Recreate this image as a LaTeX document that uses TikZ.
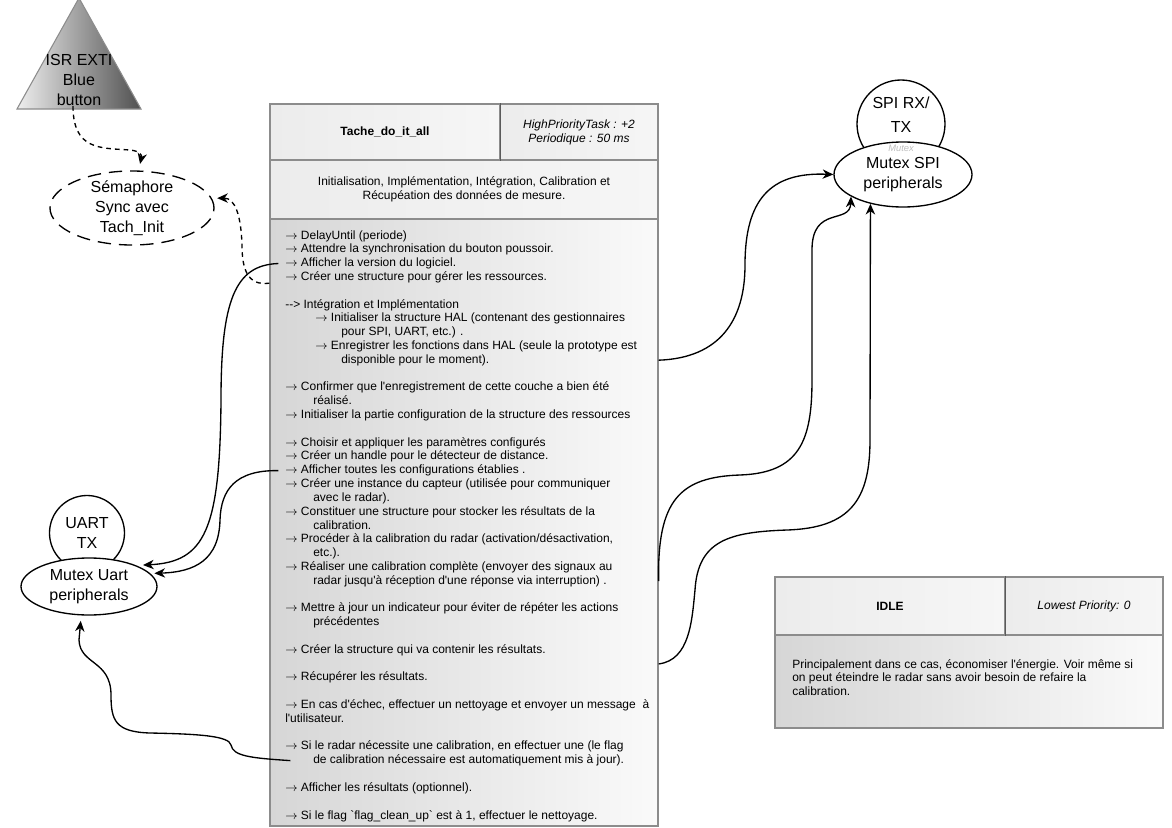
\documentclass[tikz,border=0pt]{standalone}
\usepackage{fontspec}
\newfontfamily\lib{Liberation Sans}
\usetikzlibrary{arrows.meta,shapes.geometric,calc}

\definecolor{edge}{HTML}{8C8C8C}
\definecolor{divider}{HTML}{5A5A5A}
\definecolor{hdrL}{HTML}{ECECEC}
\definecolor{hdrR}{HTML}{F6F6F6}
\definecolor{bodyL}{HTML}{D6D6D6}
\definecolor{bodyR}{HTML}{FAFAFA}
\definecolor{triL}{HTML}{EEEEEE}
\definecolor{triR}{HTML}{505050}

% thin bullet arrow used in the task descriptions
\newcommand\ra{$\rightarrow$}

\tikzset{
  every node/.style={font=\lib},
  cell/.style={draw=edge, line width=1pt, inner sep=0pt, left color=hdrL, right color=hdrR,
    font={\lib\fontsize{9}{10.4}\selectfont}, align=center},
  bodycell/.style={draw=edge, line width=1pt, inner sep=0pt, left color=bodyL, right color=bodyR},
  line/.style={font={\lib\fontsize{9}{10.4}\selectfont}, inner sep=0pt, anchor=base west},
  big/.style={font={\lib\fontsize{12}{15}\selectfont}, align=center, inner sep=0pt},
  oval/.style={draw, line width=1pt, ellipse, fill=white, inner sep=0pt},
  ring/.style={draw, line width=1pt, circle, fill=white, inner sep=0pt},
  wire/.style={line width=1pt, -{Stealth[length=8pt,width=7pt,inset=2.5pt]}},
  dwire/.style={wire, dash pattern=on 3.5pt off 3pt},
}

\begin{document}
\begin{tikzpicture}[x=0.75pt,y=-0.75pt]
\useasboundingbox (0,0) rectangle (1172,828);
\fill[white] (0,0) rectangle (1172,828);

% ---------- interrupt source ----------
\shadedraw[draw=gray!90, line width=0.8pt, left color=triL, right color=triR]
  (17,109) -- (79,-2) -- (141,109) -- cycle;
\node[big] (isr) at (79,80) {ISR EXTI\\Blue\\button};

% ---------- semaphore ----------
\node[oval, dash pattern=on 10pt off 6pt, minimum width=123pt, minimum height=55.5pt] (sem) at (132,208) {};
\node[big] (semtxt) at (132,208) {Sémaphore\\Sync avec\\Tach\_Init};

% ---------- SPI resource ----------
\node[ring, minimum size=66pt] (spic) at (901,124) {};
\node[big] (spitxt) at (901,115) {SPI RX/\\[3pt]TX};
\node[oval, minimum width=103.5pt, minimum height=48.75pt, big] (spim) at (903,174.5) {Mutex SPI\\peripherals};
\node[font={\lib\itshape\fontsize{7}{8}\selectfont}, text=gray!50, inner sep=0pt] (mutexlbl) at (901,148) {Mutex};

% ---------- UART resource ----------
\node[ring, minimum size=56.25pt, big] (uartc) at (87,533) {UART\\TX};
\node[oval, minimum width=102pt, minimum height=42.75pt, big] (uartm) at (89,586.5) {Mutex Uart\\peripherals};

% ---------- main task ----------
\node[cell, minimum width=172.5pt, minimum height=42pt] (taskname) at (385,132) {\bfseries Tache\_do\_it\_all};
\node[cell, minimum width=118.5pt, minimum height=42pt] (taskprio) at (579,132) {\itshape HighPriorityTask : +2\\\itshape Periodique : 50 ms};
\node[cell, minimum width=291pt, minimum height=44.25pt] (taskdesc) at (464,189.5)
  {Initialisation, Implémentation, Intégration, Calibration et\\Récupéation des données de mesure.};
\node[bodycell, minimum width=291pt, minimum height=455.25pt] (taskbody) at (464,522.5) {};
\draw[divider, line width=1pt] (taskname.north east) -- (taskname.south east);

\foreach \i/\x/\t in {
  0/285/{\ra{} DelayUntil (periode)},
  1/285/{\ra{} Attendre la synchronisation du bouton poussoir.},
  2/285/{\ra{} Afficher la version du logiciel.},
  3/285/{\ra{} Créer une structure pour gérer les ressources.},
  5/285/{--> Intégration et Implémentation},
  6/315/{\ra{} Initialiser la structure HAL (contenant des gestionnaires},
  7/341/{pour SPI, UART, etc.) .},
  8/315/{\ra{} Enregistrer les fonctions dans HAL (seule la prototype est},
  9/341/{disponible pour le moment).},
  11/285/{\ra{} Confirmer que l'enregistrement de cette couche a bien été},
  12/313/{réalisé.},
  13/285/{\ra{} Initialiser la partie configuration de la structure des ressources},
  15/285/{\ra{} Choisir et appliquer les paramètres configurés},
  16/285/{\ra{} Créer un handle pour le détecteur de distance.},
  17/285/{\ra{} Afficher toutes les configurations établies .},
  18/285/{\ra{} Créer une instance du capteur (utilisée pour communiquer},
  19/313/{avec le radar).},
  20/285/{\ra{} Constituer une structure pour stocker les résultats de la},
  21/313/{calibration.},
  22/285/{\ra{} Procéder à la calibration du radar (activation/désactivation,},
  23/313/{etc.).},
  24/285/{\ra{} Réaliser une calibration complète (envoyer des signaux au},
  25/313/{radar jusqu'à réception d'une réponse via interruption) .},
  27/285/{\ra{} Mettre à jour un indicateur pour éviter de répéter les actions},
  28/313/{précédentes},
  30/285/{\ra{} Créer la structure qui va contenir les résultats.},
  32/285/{\ra{} Récupérer les résultats.},
  34/285/{\ra{} En cas d'échec, effectuer un nettoyage et envoyer un message~ à},
  35/285/{l'utilisateur.},
  37/285/{\ra{} Si le radar nécessite une calibration, en effectuer une (le flag},
  38/313/{de calibration nécessaire est automatiquement mis à jour).},
  40/285/{\ra{} Afficher les résultats (optionnel).},
  42/285/{\ra{} Si le flag `flag\_clean\_up` est à 1, effectuer le nettoyage.}}
  \node[line] (b\i) at (\x,{239+13.81*\i}) {\t};
\coordinate (gap31) at ($(b30.west)!.5!(b32.west)$);

% ---------- idle task ----------
\node[cell, minimum width=172.5pt, minimum height=43.5pt] (idlename) at (890,606) {\bfseries IDLE};
\node[cell, minimum width=118.5pt, minimum height=43.5pt] (idleprio) at (1084,606) {\itshape Lowest Priority: 0};
\node[bodycell, minimum width=291pt, minimum height=69.75pt] (idlebody) at (969,681.5) {};
\draw[divider, line width=1pt] (idlename.north east) -- (idlename.south east);
\foreach \i/\t in {
  0/{Principalement dans ce cas, économiser l'énergie. Voir même si},
  1/{on peut éteindre le radar sans avoir besoin de refaire la},
  2/{calibration.}}
  \node[line] (idle\i) at (792,{668+13.81*\i}) {\t};

% ---------- synchronisation (dashed) ----------
\draw[dwire, shorten >=5pt] ([xshift=-4.5pt]isr.south)
  .. controls (73,150) and (100,148) .. (130,150)
  .. controls (140,151) and (142,155) .. (sem.80);
\draw[dwire, shorten >=4pt] (taskbody.west |- b3.south)
  .. controls (248,286) and (242,270) .. (242,245)
  .. controls (241,215) and (235,198) .. (sem.7);

% ---------- UART accesses ----------
\draw[wire, shorten >=5pt] ([xshift=-5pt]b2.west)
  .. controls (235,265) and (221,300) .. (221,400)
  .. controls (220,530) and (205,562) .. (uartm.24);
\draw[wire, shorten >=3pt] ([xshift=-5pt]b17.west)
  .. controls (235,470) and (221,490) .. (220,520)
  .. controls (219,560) and (195,572) .. (uartm.12);
\draw[wire, shorten >=4pt] ([xshift=-17pt]b38.west)
  .. controls (250,758) and (233,756) .. (231,745)
  .. controls (229,736) and (200,734) .. (150,733)
  .. controls (115,732) and (111,720) .. (111,695)
  .. controls (111,660) and (80,665) .. (79,640) -- (uartm.-105);

% ---------- SPI accesses ----------
\draw[wire] (taskbody.east |- b9.west)
  .. controls (720,358) and (745,320) .. (745,265)
  .. controls (745,200) and (770,172) .. (spim.west);
\draw[wire] (taskbody.east |- b25.west)
  .. controls (657,500) and (680,477) .. (740,475)
  .. controls (800,473) and (812,440) .. (812,380) -- (812,250)
  .. controls (812,205) and (850,225) .. (spim.203);
\draw[wire] (taskbody.east |- gap31)
  .. controls (690,660) and (692,620) .. (695,590)
  .. controls (698,540) and (730,532) .. (787,530)
  .. controls (850,528) and (870,500) .. (870,440) -- (spim.222);
\end{tikzpicture}
\end{document}
